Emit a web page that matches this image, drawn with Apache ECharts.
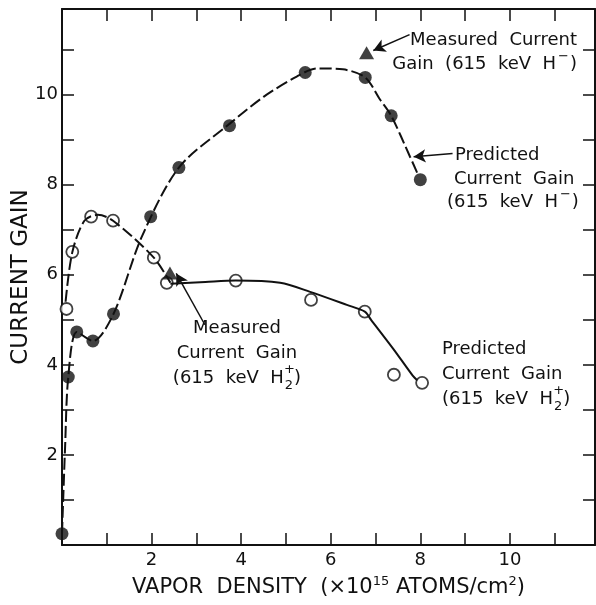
<!DOCTYPE html>
<html>
<head>
<meta charset="utf-8">
<script src="https://cdn.jsdelivr.net/npm/echarts@6/dist/echarts.min.js"></script>
<style>
  html, body { margin: 0; background: #fff; }
  #chart { width: 596px; height: 605px; }
</style>
</head>
<body>
<div id="chart"></div>
<script>
// predicted / measured gain for 615 keV H- (filled circles, triangle)
const hMinusPoints = [[0.0, 0.25], [0.14, 3.73], [0.33, 4.73], [0.69, 4.53], [1.15, 5.13], [1.98, 7.29],
  [2.61, 8.38], [3.74, 9.31], [5.43, 10.49], [6.77, 10.38], [7.35, 9.53], [8.0, 8.11]]
const hMinusMeasured = [[6.8, 10.93]]
// predicted / measured gain for 615 keV H2+ (open circles, triangle)
const h2Points = [[0.1, 5.24], [0.23, 6.51], [0.65, 7.29], [1.14, 7.2], [2.05, 6.38], [2.34, 5.82],
  [3.88, 5.87], [5.56, 5.44], [6.76, 5.18], [7.41, 3.78], [8.04, 3.6]]
const h2Measured = [[2.41, 6.04]]

// hand drawn fit curves
const hMinusCurve = [[0.0, 0.25], [0.07, 2.2], [0.14, 3.73], [0.33, 4.73], [0.69, 4.53], [1.15, 5.13],
  [1.78, 6.84], [2.61, 8.38], [3.74, 9.35], [4.5, 9.95], [5.24, 10.4], [5.69, 10.58], [6.27, 10.56],
  [6.77, 10.38], [7.1, 9.89], [7.35, 9.53], [7.77, 8.62], [7.95, 8.22]]
const h2CurveDashed = [[0.08, 5.4], [0.23, 6.5], [0.5, 7.2], [0.8, 7.33], [1.14, 7.2], [2.05, 6.38], [2.42, 5.82]]
const h2CurveSolid = [[2.42, 5.8], [3.2, 5.84], [3.88, 5.87], [4.87, 5.82], [5.54, 5.62], [6.36, 5.33],
  [6.76, 5.18], [6.9, 5.0], [7.4, 4.35], [7.83, 3.76], [7.93, 3.66]]

const xTickLabels = [2, 4, 6, 8, 10]
const yTickLabels = [2, 4, 6, 8, 10]

const myChart = echarts.init(document.getElementById('chart'))
const font = '"DejaVu Sans", sans-serif'
const ink = '#111'

const ctx = document.createElement('canvas').getContext('2d')
const measure = (s, size) => {
  ctx.font = size + 'px ' + font
  return ctx.measureText(s).width
}

const axisBase = {
  type: 'value',
  min: 0,
  max: 11.9,
  interval: 1,
  axisLine: { show: true, onZero: false, lineStyle: { color: ink, width: 2 } },
  axisTick: { show: true, inside: true, length: 12, lineStyle: { color: ink, width: 1.5 } },
  splitLine: { show: false }
}

const arrowLine = (from, to, curveness) => ({
  type: 'line',
  silent: true,
  data: [],
  markLine: {
    silent: true,
    symbol: ['none', 'arrow'],
    symbolSize: [10, 12],
    label: { show: false },
    lineStyle: { color: ink, width: 1.5, type: 'solid', curveness: curveness || 0 },
    data: [[{ coord: from }, { coord: to }]]
  }
})

const txt = (x, y, text, align, size, rich) => ({
  type: 'text',
  x, y,
  style: {
    text,
    font: (size || 18) + 'px ' + font,
    fill: ink,
    align: align || 'left',
    verticalAlign: 'middle',
    rich: rich
  }
})
const richMinus = {
  a: { fontSize: 18, fontFamily: font, color: ink, lineHeight: 28 },
  minus: { fontSize: 13, fontFamily: font, color: ink, lineHeight: 28, verticalAlign: 'top', padding: [0, 1, 0, 2] }
}

// "(615 keV H2+)" with the + stacked over the 2
const h2Label = (x, y, align) => {
  const head = '(615  keV  H'
  const wHead = measure(head, 18)
  const w2 = measure('2', 13)
  const wPlus = measure('+', 13)
  const total = wHead + 1 + w2 + 1 + measure(')', 18)
  const left = align === 'center' ? x - total / 2 : x
  const xs = left + wHead + 1
  return [
    txt(left, y, head),
    txt(xs, y + 8, '2', 'left', 13),
    txt(xs + w2 / 2 - wPlus / 2 + 0.5, y - 8, '+', 'left', 13),
    txt(xs + w2 + 1, y, ')')
  ]
}

const option = {
  backgroundColor: '#fff',
  animation: false,
  grid: { left: 62, top: 9, right: 1, bottom: 60, containLabel: false, outerBoundsMode: 'none' },
  xAxis: [
    {
      ...axisBase,
      position: 'bottom',
      name: '{n|VAPOR  DENSITY  (×10}{s|15}{n| ATOMS/cm}{s|2}{n|)}',
      nameLocation: 'middle',
      nameGap: 30,
      nameMoveOverlap: false,
      nameTextStyle: {
        rich: {
          n: { fontSize: 21, fontFamily: font, color: ink, lineHeight: 26 },
          s: { fontSize: 13, fontFamily: font, color: ink, lineHeight: 26, verticalAlign: 'top' }
        }
      },
      axisLabel: {
        margin: 6,
        fontSize: 18,
        fontFamily: font,
        color: ink,
        showMinLabel: false,
        showMaxLabel: false,
        formatter: v => (xTickLabels.includes(v) ? String(v) : '')
      }
    },
    { ...axisBase, position: 'top', axisLabel: { show: false } }
  ],
  yAxis: [
    {
      ...axisBase,
      position: 'left',
      name: 'CURRENT GAIN',
      nameLocation: 'middle',
      nameGap: 29,
      nameMoveOverlap: false,
      nameTextStyle: { fontSize: 23, fontFamily: font, color: ink },
      axisLabel: {
        margin: 4,
        fontSize: 18,
        fontFamily: font,
        color: ink,
        showMinLabel: false,
        showMaxLabel: false,
        formatter: v => (yTickLabels.includes(v) ? String(v) : '')
      }
    },
    { ...axisBase, position: 'right', axisLabel: { show: false } }
  ],
  series: [
    {
      type: 'line', data: hMinusCurve, smooth: 0.3, showSymbol: false, silent: true,
      lineStyle: { color: ink, width: 2, type: [12, 4] }
    },
    {
      type: 'line', data: h2CurveDashed, smooth: 0.3, showSymbol: false, silent: true,
      lineStyle: { color: ink, width: 2, type: [12, 4] }
    },
    {
      type: 'line', data: h2CurveSolid, smooth: 0.3, showSymbol: false, silent: true,
      lineStyle: { color: ink, width: 2 }
    },
    {
      type: 'scatter', data: hMinusPoints, symbol: 'circle', symbolSize: 13, clip: false,
      itemStyle: { color: ink }
    },
    {
      type: 'scatter', data: h2Points, symbol: 'circle', symbolSize: 12, clip: false,
      itemStyle: { color: '#fff', borderColor: ink, borderWidth: 1.8 }
    },
    {
      type: 'scatter', data: hMinusMeasured.concat(h2Measured), symbol: 'triangle', symbolSize: [15, 13],
      itemStyle: { color: ink }
    },
    arrowLine([7.76, 11.33], [6.95, 10.98], -0.15),
    arrowLine([8.72, 8.69], [7.85, 8.62], 0),
    arrowLine([3.19, 4.89], [2.55, 6.03], -0.35)
  ],
  graphic: [
    txt(577, 40, 'Measured  Current', 'right'),
    txt(577, 64, '{a|Gain  (615  keV  H}{minus|−}{a|)}', 'right', 18, richMinus),
    txt(455, 155, 'Predicted'),
    txt(454, 179, 'Current  Gain'),
    txt(447, 202, '{a|(615  keV  H}{minus|−}{a|)}', 'left', 18, richMinus),
    txt(237, 328, 'Measured', 'center'),
    txt(237, 353, 'Current  Gain', 'center'),
    ...h2Label(237, 378, 'center'),
    txt(442, 349, 'Predicted'),
    txt(442, 374, 'Current  Gain'),
    ...h2Label(442, 399, 'left')
  ]
}

myChart.setOption(option)
window.addEventListener('resize', () => myChart.resize())
</script>
</body>
</html>
